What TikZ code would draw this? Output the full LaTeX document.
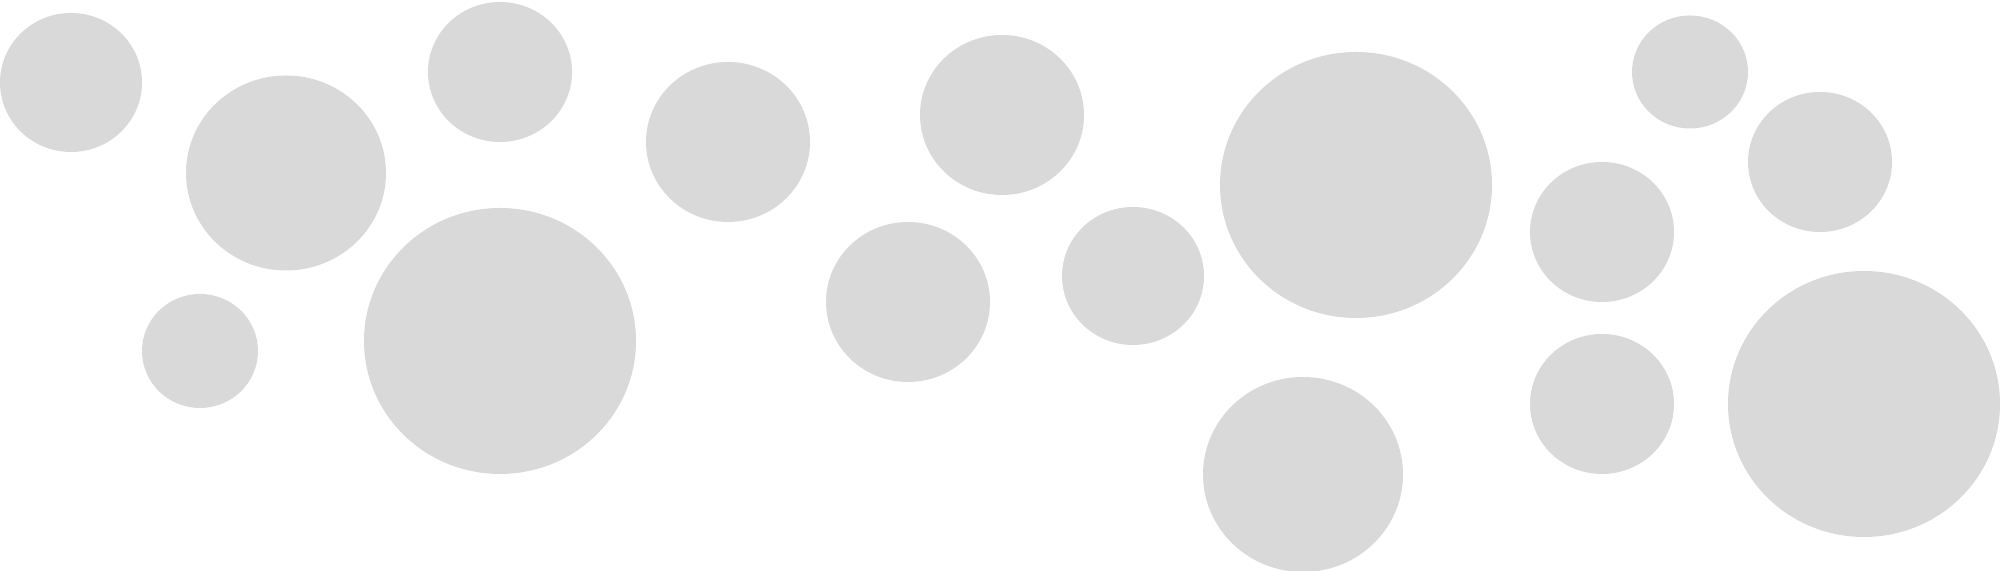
\documentclass[tikz,border=0pt]{standalone}
\usepackage{tikz}
\usepackage{xcolor}
\definecolor{blobgray}{RGB}{217,217,217}

\begin{document}
\begin{tikzpicture}[x=0.01cm, y=0.01cm, blob/.style={fill=blobgray}]
	% Fix the frame
	\useasboundingbox (0, 0) rectangle (2000, 571);

	% Left group
	\fill[blob] (71, 488.5) ellipse (71 and 69.5);
	\fill[blob] (286, 398) ellipse (100 and 97.5);
	\fill[blob] (500, 499) ellipse (72 and 70);
	\fill[blob] (200, 220) ellipse (58 and 57);
	\fill[blob] (500, 230) ellipse (136 and 133);

	% Middle group
	\fill[blob] (728, 429) ellipse (82 and 80);
	\fill[blob] (1002, 456) ellipse (82 and 80);
	\fill[blob] (908, 269) ellipse (82 and 80);
	\fill[blob] (1133, 295) ellipse (71 and 69);
	\fill[blob] (1356, 386) ellipse (136 and 133);
	\fill[blob] (1303, 96.5) ellipse (100 and 97.5);

	% Right group
	\fill[blob] (1602, 339) ellipse (72 and 70);
	\fill[blob] (1602, 167) ellipse (72 and 70);
	\fill[blob] (1690, 499) ellipse (58 and 56.5);
	\fill[blob] (1820, 409) ellipse (72 and 70);
	\fill[blob] (1864, 167) ellipse (136 and 133);
\end{tikzpicture}
\end{document}
